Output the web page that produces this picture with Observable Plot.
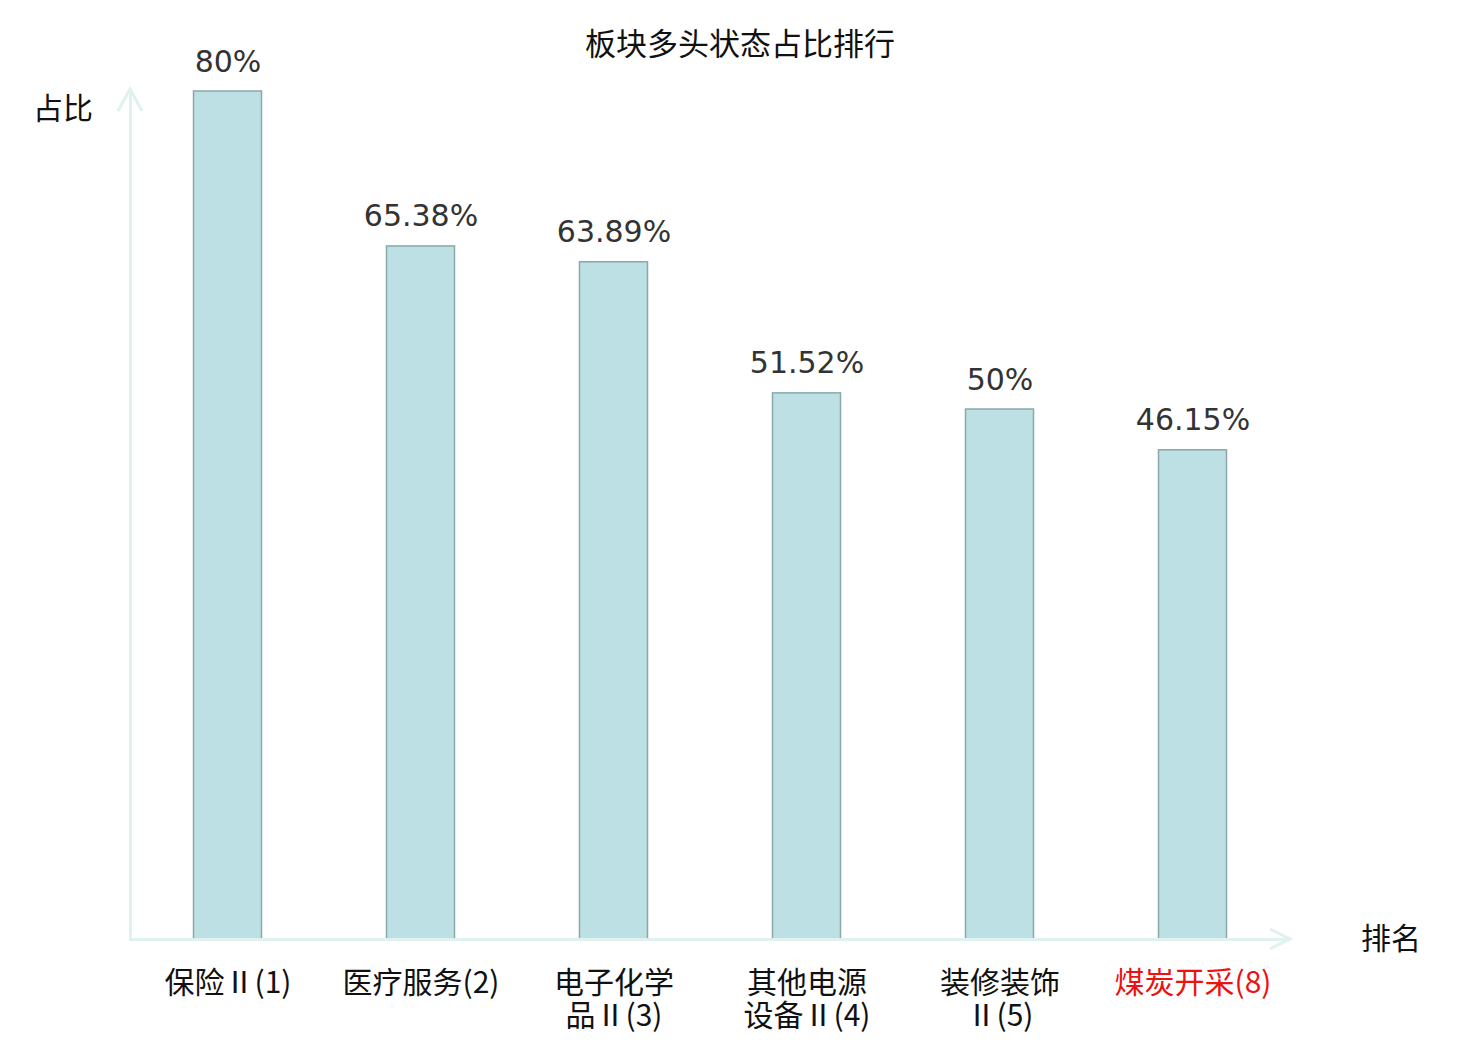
<!DOCTYPE html>
<html>
<head>
<meta charset="utf-8">
<script src="https://cdn.jsdelivr.net/npm/d3@7"></script>
<script src="https://cdn.jsdelivr.net/npm/@observablehq/plot@0.6"></script>
<style>
  body { margin: 0; background: #fff; }
  #wrap { position: relative; width: 1480px; height: 1040px; }
  #title { position: absolute; top: 20px; left: 0; width: 1480px; text-align: center;
           font-family: "Noto Sans CJK SC", sans-serif; font-size: 31px; color: #111; line-height: 44px; }
</style>
</head>
<body>
<div id="wrap"><div id="title">板块多头状态占比排行</div></div>
<script>
const categories = ["保险Ⅱ(1)", "医疗服务(2)", "电子化学品Ⅱ(3)", "其他电源设备Ⅱ(4)", "装修装饰Ⅱ(5)", "煤炭开采(8)"];
const tickLabels = ["保险Ⅱ(1)", "医疗服务(2)", "电子化学\n品Ⅱ(3)", "其他电源\n设备Ⅱ(4)", "装修装饰\nⅡ(5)", "煤炭开采(8)"];
const values = [80, 65.38, 63.89, 51.52, 50, 46.15];
const valueLabels = ["80%", "65.38%", "63.89%", "51.52%", "50%", "46.15%"];
const highlighted = ["煤炭开采(8)"];

const data = categories.map((c, i) => ({cat: c, value: values[i], label: valueLabels[i], tick: tickLabels[i]}));
const axisColor = "#dff2f0";
const cjk = '"Noto Sans CJK SC", sans-serif';

const chart = Plot.plot({
  width: 1480,
  height: 1040,
  marginLeft: 130,
  marginRight: 190,
  marginTop: 91,
  marginBottom: 101,
  style: {background: "transparent", overflow: "visible"},
  x: {domain: categories, padding: 0, axis: null},
  y: {domain: [0, 80], axis: null},
  marks: [
    Plot.barY(data, {x: "cat", y: "value", fill: "#bce0e3", stroke: "#8aa8aa", strokeWidth: 1.5, insetLeft: 62.5, insetRight: 62.5}),
    Plot.ruleY([0], {stroke: axisColor, strokeWidth: 3}),
    Plot.frame({anchor: "left", stroke: axisColor, strokeWidth: 3}),
    Plot.text(data, {x: "cat", y: "value", text: "label", dy: -20, lineAnchor: "bottom",
      fill: "#333", fontSize: 30, fontFamily: '"DejaVu Sans", sans-serif'}),
    Plot.text(data, {x: "cat", y: 0, text: "tick", dy: 30, lineAnchor: "top", lineHeight: 1.1,
      fill: d => highlighted.includes(d.cat) ? "#ee1111" : "#111", fontSize: 30,
      fontFamily: cjk})
  ]
});

document.getElementById("wrap").appendChild(chart);

// axis arrowheads and axis names, positioned from the plot's scales
const svg = d3.select(chart);
const ys = chart.scale("y");
const y0 = ys.apply(0), yTop = ys.apply(80);
const xLeft = 130, xRight = 1480 - 190;
svg.append("path")
  .attr("d", `M${xLeft - 12},${yTop + 20}L${xLeft},${yTop - 2}L${xLeft + 12},${yTop + 20}`)
  .attr("fill", "none").attr("stroke", axisColor).attr("stroke-width", 3);
svg.append("path")
  .attr("d", `M${xRight - 20},${y0 - 10}L${xRight},${y0}L${xRight - 20},${y0 + 10}`)
  .attr("fill", "none").attr("stroke", axisColor).attr("stroke-width", 3);
svg.append("text").text("占比")
  .attr("x", 63).attr("y", yTop + 20).attr("text-anchor", "middle").attr("dominant-baseline", "middle")
  .attr("font-family", cjk).attr("font-size", 30).attr("fill", "#111");
svg.append("text").text("排名")
  .attr("x", 1391).attr("y", y0 + 2).attr("text-anchor", "middle").attr("dominant-baseline", "middle")
  .attr("font-family", cjk).attr("font-size", 30).attr("fill", "#111");
</script>
</body>
</html>
